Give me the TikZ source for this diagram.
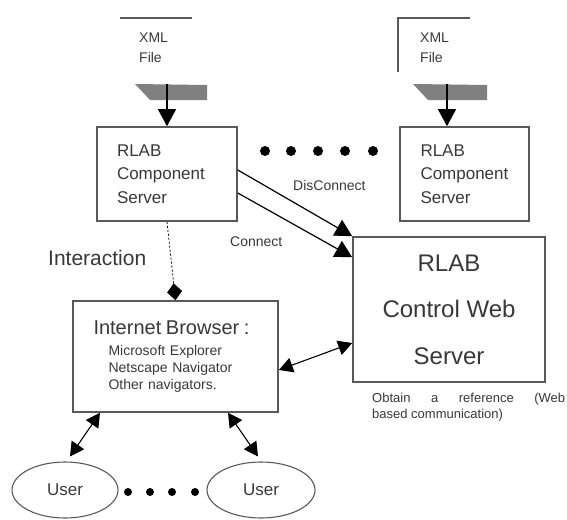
\documentclass[tikz,border=0pt]{standalone}
\usepackage{fontspec}
\setmainfont{Liberation Sans}
\usetikzlibrary{arrows.meta,positioning,shapes.geometric,calc}
\definecolor{boxgray}{gray}{0.35}
\definecolor{txtgray}{gray}{0.22}
\definecolor{inputgray}{gray}{0.5}

\begin{document}
\begin{tikzpicture}[
        x=1pt, y=-1pt,
        box/.style={draw=boxgray, line width=1.6pt, rectangle, inner sep=0pt, text=txtgray},
        user/.style={draw=boxgray, line width=1.1pt, ellipse, inner sep=0pt,
            minimum width=106pt, minimum height=56pt, text=txtgray,
            font=\fontsize{17}{20}\selectfont},
        feed/.style={-{Triangle[length=17pt, width=18pt]}, line width=1.2pt},
        link/.style={{Triangle[length=14pt, width=15pt]}-{Triangle[length=14pt, width=15pt]}, line width=1.1pt},
        lbl/.style={text=txtgray, inner sep=0pt},
    ]
    \useasboundingbox (0,0) rectangle (567,519);

    % XML inputs (top)
    \draw[boxgray, line width=1.3pt] (120,18) -- (192,18);
    \node[lbl, anchor=west, align=left, font=\fontsize{14}{20}\selectfont] (xml1) at (139,48) {XML\\File};
    \fill[inputgray] (135,84) -- (207,85) -- (207,100) -- (150,100) -- cycle;
    \coordinate (in1) at (167,84);

    \draw[boxgray, line width=1.3pt] (398,72) -- (398,18) -- (470,18);
    \node[lbl, anchor=west, align=left, font=\fontsize{14}{20}\selectfont] (xml2) at (420,48) {XML\\File};
    \fill[inputgray] (413,84) -- (487,85) -- (487,100) -- (428,100) -- cycle;
    \coordinate (in2) at (447,84);

    % Component servers
    \node[box, minimum width=140pt, minimum height=94pt, text width=100pt, align=left,
        font=\fontsize{17}{23.5}\selectfont] (comp1) at (167,174) {RLAB\\Component\\Server};
    \node[box, minimum width=129pt, minimum height=94pt, text width=88pt, align=left,
        font=\fontsize{17}{23.5}\selectfont] (comp2) at (464.5,174) {RLAB\\Component\\Server};
    \foreach \x in {265,291,318,345,373} {
        \fill (\x,151) circle (5pt);
    }

    % Control web server
    \node[box, minimum width=192pt, minimum height=145pt, align=center,
        font=\fontsize{24}{46.5}\selectfont] (server) at (449,309.5) {RLAB\\Control Web\\Server};
    \node[lbl, anchor=north west, align=left, font=\fontsize{13}{16}\selectfont] (note) at (372,393)
        {\makebox[193pt][s]{Obtain a reference (Web}\\based communication)};

    % Browser
    \node[box, minimum width=205pt, minimum height=111pt, text width=164pt, align=left,
        font=\fontsize{14}{17}\selectfont] (browser) at (175.5,356.5)
        {{\fontsize{20}{21}\selectfont Internet Browser :}\\[4pt]
         \hspace*{15pt}Microsoft Explorer\\
         \hspace*{15pt}Netscape Navigator\\
         \hspace*{15pt}Other navigators.};

    % Users
    \node[user] (user1) at (65,490) {User};
    \node[user, minimum width=108pt] (user2) at (261,490) {User};
    \foreach \x in {128,150,172,195} {
        \fill (\x,492) circle (4pt);
    }

    % Labels
    \node[lbl, anchor=west, font=\fontsize{21}{24}\selectfont] (interact) at (48,258) {Interaction};
    \node[lbl, anchor=west, font=\fontsize{14}{16}\selectfont] (disc) at (293,185) {DisConnect};
    \node[lbl, anchor=west, font=\fontsize{14}{16}\selectfont] (conn) at (230,242) {Connect};

    % Connectors
    \draw[feed] (in1) -- (comp1.north);
    \draw[feed] (in2) -- (in2 |- comp2.north);
    \draw[feed] ([yshift=4pt]comp1.east) -- (server.north west);
    \draw[feed] ([yshift=-19pt]comp1.east) -- ([yshift=-21pt]server.north west);
    \draw[dash pattern=on 2pt off 2pt, line width=0.8pt, -{Diamond[length=17pt, width=15pt]}] (comp1.south) -- (browser.north);
    \draw[link] ([yshift=-13.5pt]browser.east) -- ([yshift=-33.5pt]server.west);
    \draw[link] ([xshift=-75.5pt]browser.south) -- ([shift={(5pt,5pt)}]user1.north);
    \draw[link] ([xshift=52.5pt]browser.south) -- ([shift={(-3pt,5pt)}]user2.north);

\end{tikzpicture}
\end{document}
